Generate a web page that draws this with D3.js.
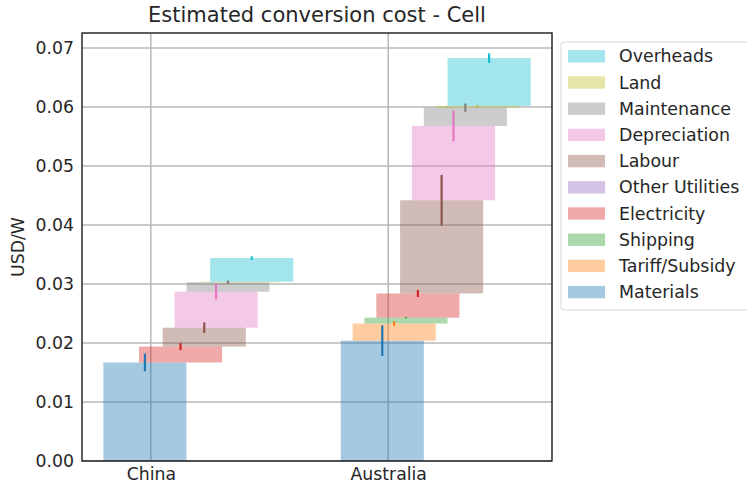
<!DOCTYPE html>
<html>
<head>
<meta charset="utf-8">
<script src="https://cdn.jsdelivr.net/npm/d3@7"></script>
<style>
  html, body { margin: 0; padding: 0; background: #fff; }
  svg { display: block; font-family: "DejaVu Sans", sans-serif; }
</style>
</head>
<body>
<svg id="chart" width="747" height="485"></svg>
<script>
// Conversion cost components (USD/W), stacked in this order from the bottom
const categories = ["China", "Australia"];
const components = ["Materials", "Tariff/Subsidy", "Shipping", "Electricity", "Other Utilities",
                    "Labour", "Depreciation", "Maintenance", "Land", "Overheads"];
const colors = ["#1f77b4", "#ff7f0e", "#2ca02c", "#d62728", "#9467bd",
                "#8c564b", "#e377c2", "#7f7f7f", "#bcbd22", "#17becf"];

// values[component] = [China, Australia]
const materials      = [0.0167, 0.0204];
const tariffSubsidy  = [0.0000, 0.0029];
const shipping       = [0.0000, 0.0010];
const electricity    = [0.0027, 0.0041];
const otherUtilities = [0.0000, 0.0000];
const labour         = [0.0032, 0.0158];
const depreciation   = [0.0061, 0.0126];
const maintenance    = [0.0016, 0.0031];
const land           = [0.0001, 0.0003];
const overheads      = [0.0040, 0.0081];

// half-width of the uncertainty on each component
const materialsErr      = [0.0015, 0.0026];
const tariffSubsidyErr  = [0.0000, 0.0004];
const shippingErr       = [0.0000, 0.0001];
const electricityErr    = [0.0006, 0.0006];
const otherUtilitiesErr = [0.0000, 0.0000];
const labourErr         = [0.0009, 0.0043];
const depreciationErr   = [0.0013, 0.0026];
const maintenanceErr    = [0.0003, 0.0007];
const landErr           = [0.0000, 0.0001];
const overheadsErr      = [0.0003, 0.0008];

const yTicks = [0, 0.01, 0.02, 0.03, 0.04, 0.05, 0.06, 0.07];

const values = [materials, tariffSubsidy, shipping, electricity, otherUtilities,
                labour, depreciation, maintenance, land, overheads];
const errors = [materialsErr, tariffSubsidyErr, shippingErr, electricityErr, otherUtilitiesErr,
                labourErr, depreciationErr, maintenanceErr, landErr, overheadsErr];

const step = 0.05, barW = 0.35, start = -0.2;

// Build the waterfall segments
const segs = [];
categories.forEach((cat, ci) => {
  let base = 0;
  components.forEach((comp, k) => {
    const v = values[k][ci];
    const left = ci + start + step * k;
    segs.push({ comp, k, ci, left, y0: base, y1: base + v, err: errors[k][ci] });
    base += v;
  });
});

const W = 747, H = 485;
const m = { left: 82, right: 195, top: 33, bottom: 24 };
const iw = W - m.left - m.right, ih = H - m.top - m.bottom;

const xMin = d3.min(segs, d => d.left), xMax = d3.max(segs, d => d.left + barW);
const xPad = (xMax - xMin) * 0.05;
const x = d3.scaleLinear().domain([xMin - xPad, xMax + xPad]).range([m.left, m.left + iw]);
const yMax = d3.max(segs, d => d.y1 + d.err);
const y = d3.scaleLinear().domain([0, yMax * 1.05]).range([m.top + ih, m.top]);

const svg = d3.select("#chart");
const textColor = "#262626";
const fs = 17.3;

// grid
const grid = svg.append("g");
grid.selectAll("line.h").data(yTicks).join("line")
  .attr("x1", m.left).attr("x2", m.left + iw)
  .attr("y1", d => y(d)).attr("y2", d => y(d))
  .attr("stroke", "#b8b8b8").attr("stroke-width", 1.5);
grid.selectAll("line.v").data(categories).join("line")
  .attr("x1", (d, i) => x(i)).attr("x2", (d, i) => x(i))
  .attr("y1", m.top).attr("y2", m.top + ih)
  .attr("stroke", "#b8b8b8").attr("stroke-width", 1.5);

// bars
svg.append("g").selectAll("rect").data(segs).join("rect")
  .attr("x", d => x(d.left))
  .attr("width", d => x(d.left + barW) - x(d.left))
  .attr("y", d => y(d.y1))
  .attr("height", d => y(d.y0) - y(d.y1))
  .attr("fill", d => colors[d.k])
  .attr("fill-opacity", 0.4);

// error bars at the top of each segment
svg.append("g").selectAll("line").data(segs.filter(d => d.err > 0)).join("line")
  .attr("x1", d => x(d.left + barW / 2)).attr("x2", d => x(d.left + barW / 2))
  .attr("y1", d => y(d.y1 - d.err)).attr("y2", d => y(d.y1 + d.err))
  .attr("stroke", d => colors[d.k]).attr("stroke-width", 2.2);

// frame
svg.append("rect")
  .attr("x", m.left).attr("y", m.top).attr("width", iw).attr("height", ih)
  .attr("fill", "none").attr("stroke", "#1a1a1a").attr("stroke-width", 1.4);

// y axis labels
const yAxis = d3.axisLeft(y).tickValues(yTicks).tickFormat(d3.format(".2f")).tickSize(0).tickPadding(8);
const ya = svg.append("g").attr("transform", `translate(${m.left},0)`).call(yAxis);
ya.select(".domain").remove();
ya.selectAll("text").attr("font-size", fs).attr("fill", textColor).attr("font-family", "DejaVu Sans");

// x axis labels
const xAxis = d3.axisBottom(x).tickValues(categories.map((c, i) => i))
  .tickFormat(i => categories[i]).tickSize(0).tickPadding(7);
const xa = svg.append("g").attr("transform", `translate(0,${m.top + ih})`).call(xAxis);
xa.select(".domain").remove();
xa.selectAll("text").attr("font-size", fs).attr("fill", textColor).attr("font-family", "DejaVu Sans");

// y axis title
svg.append("text")
  .attr("transform", `translate(24,${m.top + ih / 2}) rotate(-90)`)
  .attr("text-anchor", "middle")
  .attr("font-size", fs).attr("fill", textColor)
  .text("USD/W");

// chart title
svg.append("text")
  .attr("x", m.left + iw / 2).attr("y", 22)
  .attr("text-anchor", "middle")
  .attr("font-size", 21).attr("fill", textColor)
  .text("Estimated conversion cost - Cell");

// legend (top entry is the last stacked component)
const legend = svg.append("g").attr("transform", "translate(561,42)");
legend.append("rect")
  .attr("x", 0).attr("y", 0).attr("width", 200).attr("height", 268)
  .attr("rx", 3).attr("fill", "#fff").attr("fill-opacity", 0.8)
  .attr("stroke", "#d6d6d6").attr("stroke-width", 1);
const legendItems = components.map((c, k) => ({ c, k })).reverse();
const rows = legend.selectAll("g.item").data(legendItems).join("g")
  .attr("transform", (d, i) => `translate(0,${14.3 + i * 26.2})`);
rows.append("rect")
  .attr("x", 7).attr("y", -6.2).attr("width", 37).attr("height", 12.4)
  .attr("fill", d => colors[d.k]).attr("fill-opacity", 0.4);
rows.append("text")
  .attr("x", 58).attr("y", 0).attr("dy", "0.35em")
  .attr("font-size", 17.4).attr("fill", textColor)
  .text(d => d.c);
</script>
</body>
</html>
